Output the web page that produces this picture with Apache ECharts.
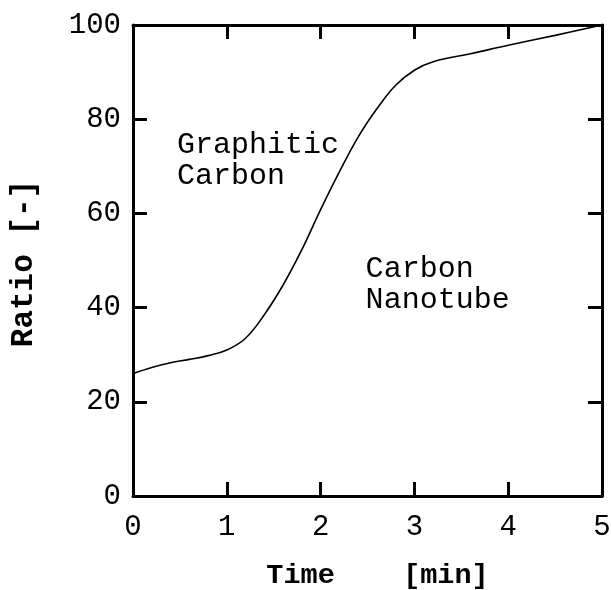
<!DOCTYPE html>
<html>
<head>
<meta charset="utf-8">
<title>Ratio vs Time</title>
<script src="https://cdn.jsdelivr.net/npm/echarts@6/dist/echarts.min.js"></script>
<style>
	html, body { margin: 0; padding: 0; background: #fff; }
	#chart { width: 611px; height: 590px; }
</style>
</head>
<body>
<div id="chart"></div>
<script>
//时间 [min]
const times = [0, 0.2, 0.4, 0.6, 0.8, 1.0, 1.2, 1.4, 1.6, 1.8, 2.0, 2.2, 2.4, 2.6, 2.8, 3.0, 3.2, 3.6, 4.0, 4.5, 5.0];
//比例 [-]
const ratios = [26, 27.3, 28.3, 29, 29.8, 31, 33.5, 38.5, 44.8, 52.3, 60.8, 68.8, 76.2, 82.2, 87.2, 90.4, 92.2, 93.9, 95.7, 97.8, 100];

const xTicks = [0, 1, 2, 3, 4, 5];
const yTicks = [0, 20, 40, 60, 80, 100];

const labels = [
	{ text: 'Graphitic\nCarbon', x: 0.47, y: 71.3 },
	{ text: 'Carbon\nNanotube', x: 2.48, y: 44.8 }
];

const font = '"Liberation Mono", "DejaVu Sans Mono", monospace';

const initChart = function () {
	const chart = echarts.init(document.getElementById('chart'));

	const points = times.map(function (t, i) {
		return [t, ratios[i]];
	});

	//四边框线 + 朝内刻度
	const frameAxis = function (extra) {
		return Object.assign({
			type: 'value',
			axisLine: { show: true, onZero: false, lineStyle: { color: '#000', width: 3 } },
			axisTick: { show: true, inside: true, length: 14, lineStyle: { color: '#000', width: 3 } },
			splitLine: { show: false }
		}, extra);
	};

	const options = {
		backgroundColor: '#fff',
		animation: false,
		grid: {
			left: 133,
			right: 9,
			top: 25,
			bottom: 94,
			outerBoundsMode: 'none',
			containLabel: false
		},
		xAxis: [
			frameAxis({
				min: xTicks[0],
				max: xTicks[xTicks.length - 1],
				interval: 1,
				position: 'bottom',
				name: 'Time    [min]',
				nameLocation: 'middle',
				nameGap: 65,
				nameTextStyle: { color: '#000', fontFamily: font, fontWeight: 'bold', fontSize: 28.5, padding: [0, 0, 0, 20] },
				axisLabel: { color: '#000', fontFamily: font, fontSize: 29, margin: 17 }
			}),
			frameAxis({
				min: xTicks[0],
				max: xTicks[xTicks.length - 1],
				interval: 1,
				position: 'top',
				axisLabel: { show: false }
			})
		],
		yAxis: [
			frameAxis({
				min: yTicks[0],
				max: yTicks[yTicks.length - 1],
				interval: 20,
				position: 'left',
				name: 'Ratio [-]',
				nameLocation: 'middle',
				nameGap: 93,
				nameRotate: 90,
				nameTextStyle: { color: '#000', fontFamily: font, fontWeight: 'bold', fontSize: 31, padding: [0, 6, 0, 0] },
				axisLabel: { color: '#000', fontFamily: font, fontSize: 29, margin: 12 }
			}),
			frameAxis({
				min: yTicks[0],
				max: yTicks[yTicks.length - 1],
				interval: 20,
				position: 'right',
				axisLabel: { show: false }
			})
		],
		series: [{
			type: 'line',
			data: points,
			smooth: 0.4,
			showSymbol: false,
			symbol: 'none',
			lineStyle: { color: '#000', width: 1.6 },
			markPoint: {
				symbol: 'rect',
				symbolSize: 0,
				label: {
					show: true,
					position: 'right',
					distance: 0,
					color: '#000',
					fontFamily: font,
					fontSize: 30,
					lineHeight: 31,
					align: 'left'
				},
				data: labels.map(function (l) {
					return { coord: [l.x, l.y], value: l.text, label: { formatter: l.text } };
				})
			}
		}]
	};

	chart.setOption(options);
};

initChart();
</script>
</body>
</html>
